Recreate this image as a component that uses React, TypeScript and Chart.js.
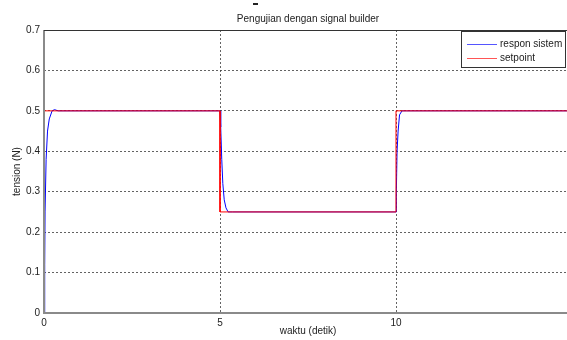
import React, { useEffect, useRef } from "react";
import { Chart, registerables } from "chart.js";

Chart.register(...registerables);

const chartTitle = "Pengujian dengan signal builder";
const xAxisTitle = "waktu (detik)";
const yAxisTitle = "tension (N)";
const legendLabels = ["respon sistem", "setpoint"];

const responseTime = [0, 0.02, 0.03, 0.06, 0.1, 0.15, 0.23, 0.3, 0.4, 5.0, 5.02, 5.05, 5.08, 5.12, 5.17, 5.23, 5.35, 10.0, 10.01, 10.03, 10.06, 10.1, 10.17, 10.3, 15];
const responseValue = [0, 0.12, 0.25, 0.38, 0.45, 0.48, 0.5, 0.503, 0.5, 0.5, 0.46, 0.38, 0.32, 0.28, 0.26, 0.25, 0.25, 0.25, 0.3, 0.4, 0.45, 0.49, 0.5, 0.5, 0.5];

const setpointTime = [0, 5, 5, 10, 10, 15];
const setpointValue = [0.5, 0.5, 0.25, 0.25, 0.5, 0.5];

const xTicks = [0, 5, 10, 15];
const yTicks = [0, 0.1, 0.2, 0.3, 0.4, 0.5, 0.6, 0.7];

const FAMILY = "'Liberation Sans', Arial, sans-serif";
const FONT = "10px " + FAMILY;

const overlay = {
  id: "overlay",
  afterDraw(chart: any) {
    const { ctx, chartArea } = chart;
    const { left, right, top, bottom } = chartArea;
    ctx.save();
    // box
    ctx.strokeStyle = "#8a8a8a";
    ctx.lineWidth = 2;
    ctx.beginPath();
    ctx.moveTo(left, top);
    ctx.lineTo(left, bottom);
    ctx.lineTo(right, bottom);
    ctx.stroke();
    ctx.strokeStyle = "#333";
    ctx.lineWidth = 1;
    ctx.beginPath();
    ctx.moveTo(left, top + 0.5);
    ctx.lineTo(right, top + 0.5);
    ctx.lineTo(right - 0.5, bottom);
    ctx.stroke();

    ctx.fillStyle = "#222";
    ctx.font = FONT;
    ctx.textAlign = "center";
    ctx.textBaseline = "middle";
    const cx = (left + right) / 2;
    ctx.fillText(chartTitle, cx, 19);
    ctx.fillRect(253, 3, 5, 2);
    ctx.fillText(xAxisTitle, cx, 331);
    ctx.save();
    ctx.translate(17, (top + bottom) / 2);
    ctx.rotate(-Math.PI / 2);
    ctx.fillText(yAxisTitle, 0, 0);
    ctx.restore();

    // legend
    const lx = 461.5, ly = 31.5, lw = 104, lh = 36;
    ctx.fillStyle = "#fff";
    ctx.fillRect(lx, ly, lw, lh);
    ctx.strokeStyle = "#333";
    ctx.lineWidth = 1;
    ctx.strokeRect(lx, ly, lw, lh);
    const colors = ["#5555ff", "#ff5555"];
    legendLabels.forEach((lab, i) => {
      const y = 44 + i * 14;
      ctx.strokeStyle = colors[i];
      ctx.beginPath();
      ctx.moveTo(467, y + 0.5);
      ctx.lineTo(497, y + 0.5);
      ctx.stroke();
      ctx.fillStyle = "#222";
      ctx.textAlign = "left";
      ctx.fillText(lab, 500, y);
    });
    ctx.restore();
  },
};

export default function App() {
  const ref = useRef<HTMLCanvasElement>(null);
  useEffect(() => {
    if (!ref.current) return;
    const chart = new Chart(ref.current, {
      type: "line",
      data: {
        datasets: [
          {
            label: legendLabels[1],
            data: setpointTime.map((t, i) => ({ x: t, y: setpointValue[i] })),
            borderColor: "#ff0000",
            borderWidth: 1,
            pointRadius: 0,
            tension: 0,
          },
          {
            label: legendLabels[0],
            data: responseTime.map((t, i) => ({ x: t, y: responseValue[i] })),
            borderColor: "#0000ff",
            borderWidth: 1,
            pointRadius: 0,
            tension: 0,
          },
        ],
      },
      plugins: [overlay],
      options: {
        responsive: false,
        animation: false,
        layout: { padding: { left: 0, right: 28, top: 30, bottom: 0 } },
        plugins: { legend: { display: false }, title: { display: false }, tooltip: { enabled: false } },
        scales: {
          x: {
            type: "linear",
            min: 0,
            max: 15,
            afterFit: (s: any) => { s.height = 27; },
            afterBuildTicks: (s: any) => { s.ticks = xTicks.map((v) => ({ value: v })); },
            grid: { color: "rgba(60,60,60,0.8)", drawTicks: false, lineWidth: 1 },
            border: { display: false, dash: [2, 2] },
            ticks: { padding: 4, color: "#222", font: { family: FAMILY, size: 10 }, maxRotation: 0, autoSkip: false },
          },
          y: {
            type: "linear",
            min: 0,
            max: 0.7,
            afterFit: (s: any) => { s.width = 44; },
            afterBuildTicks: (s: any) => { s.ticks = yTicks.map((v) => ({ value: v })); },
            grid: { color: "rgba(60,60,60,0.8)", drawTicks: false, lineWidth: 1 },
            border: { display: false, dash: [2, 2] },
            ticks: { padding: 4, color: "#222", font: { family: FAMILY, size: 10 }, autoSkip: false, callback: (v: any) => String(Math.round(v * 10) / 10) },
          },
        },
      },
    });
    return () => chart.destroy();
  }, []);
  return (
    <div style={{ position: "fixed", left: 0, top: 0, width: 567, height: 340, overflow: "hidden", background: "#fff" }}>
      <canvas ref={ref} width={600} height={340} style={{ width: 600, height: 340, display: "block" }} />
    </div>
  );
}
